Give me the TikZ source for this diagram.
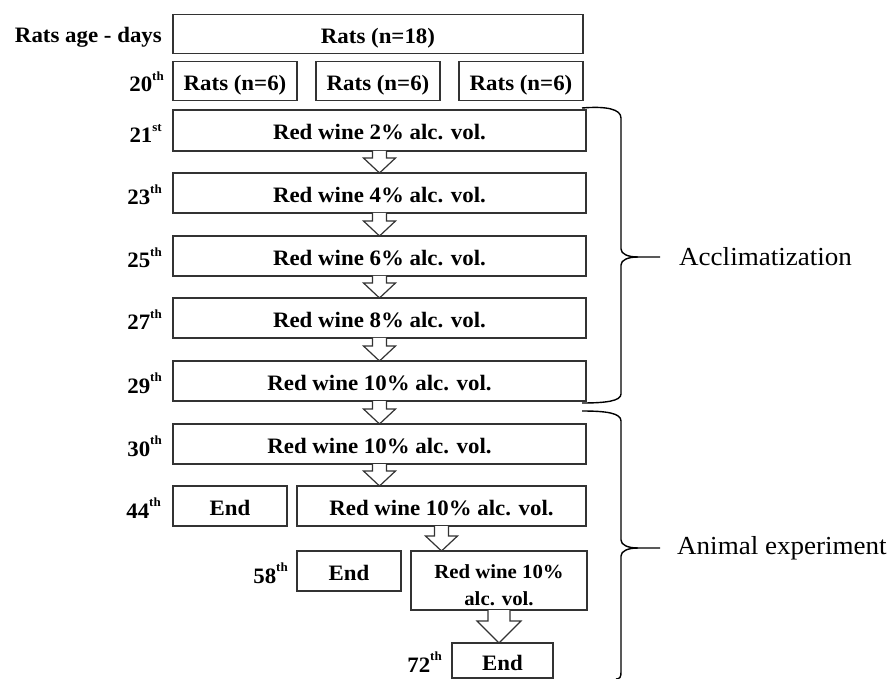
\documentclass[tikz,border=0pt]{standalone}
\usepackage{fontspec}
\setmainfont{Liberation Serif}[FakeStretch=1.04]
\usetikzlibrary{calc}
\tikzset{
  frame/.style={draw=black!80, line width=1.2pt, fill=white, inner sep=0pt, outer sep=0pt,
    font=\bfseries\fontsize{22}{24}\selectfont},
  box/.style={frame, text height=19pt, text depth=0pt},
  daylab/.style={anchor=base east, inner sep=0pt, font=\bfseries\fontsize{22}{24}\selectfont},
  arr/.style={draw=black!80, line width=1.2pt, fill=white, line join=miter},
  bracestyle/.style={draw=black, line width=1.4pt},
  phase/.style={anchor=west, inner sep=0pt, font=\fontsize{26}{28}\selectfont}
}
\newcommand\sups[1]{\raisebox{11.5pt}{\fontsize{12.5}{13}\selectfont #1}}
\newcommand\flowarrow[5]{%
  \draw[arr] let \p1=(#1.south), \p2=(#2.north) in
   (\x1-#3,\y1) -- (\x1-#3,\y2+#5) -- (\x1-#4,\y2+#5) -- (\x1,\y2)
   -- (\x1+#4,\y2+#5) -- (\x1+#3,\y2+#5) -- (\x1+#3,\y1);}
\begin{document}
\begin{tikzpicture}[x=1pt,y=-1pt]
\useasboundingbox (0,0) rectangle (895,679);
% header
\node[daylab] (hdr) at (162,43) {Rats age - days};
\node[box, minimum width=410pt, minimum height=39pt] (all) at (378,34) {Rats (n=18)};
\node[daylab] (d20) at (164,92) {20\sups{th}};
\node[box, minimum width=124pt, minimum height=39pt] (g1) at (235,81) {Rats (n=6)};
\node[box, minimum width=124pt, minimum height=39pt] (g2) at (378,81) {Rats (n=6)};
\node[box, minimum width=124pt, minimum height=39pt] (g3) at (521,81) {Rats (n=6)};
% acclimatization steps
\node[box, minimum width=413pt, minimum height=41pt] (r1) at (379.5,130.5) {Red wine 2\% alc. vol.};
\node[box, minimum width=413pt, minimum height=40pt] (r2) at (379.5,193) {Red wine 4\% alc. vol.};
\node[box, minimum width=413pt, minimum height=40pt] (r3) at (379.5,256) {Red wine 6\% alc. vol.};
\node[box, minimum width=413pt, minimum height=40pt] (r4) at (379.5,318) {Red wine 8\% alc. vol.};
\node[box, minimum width=413pt, minimum height=40pt] (r5) at (379.5,381) {Red wine 10\% alc. vol.};
\node[box, minimum width=413pt, minimum height=40pt] (r6) at (379.5,444) {Red wine 10\% alc. vol.};
\node[daylab] (d21) at (162,143) {21\sups{st}};
\node[daylab] (d23) at (162,205) {23\sups{th}};
\node[daylab] (d25) at (162,268) {25\sups{th}};
\node[daylab] (d27) at (162,330) {27\sups{th}};
\node[daylab] (d29) at (162,393) {29\sups{th}};
\node[daylab] (d30) at (162,456) {30\sups{th}};
% experiment
\node[box, minimum width=114pt, minimum height=40pt] (e1) at (230,506) {End};
\node[box, minimum width=289pt, minimum height=40pt] (r7) at (441.5,506) {Red wine 10\% alc. vol.};
\node[daylab] (d44) at (161,518) {44\sups{th}};
\node[box, minimum width=104pt, minimum height=40pt] (e2) at (349,571) {End};
\node[frame, minimum width=176pt, minimum height=59pt, text height=49pt, text depth=0pt,
      font=\bfseries\fontsize{20}{27}\selectfont] (r8) at (499,580.5)
      {\begin{tabular}[b]{@{}c@{}}Red wine 10\%\\alc. vol.\end{tabular}};
\node[daylab] (d58) at (288,583) {58\sups{th}};
\node[box, minimum width=101pt, minimum height=35pt] (e3) at (502.5,660.5) {End};
\node[daylab] (d72) at (442,672) {72\sups{th}};
% arrows
\flowarrow{r1}{r2}{7pt}{16pt}{15pt}
\flowarrow{r2}{r3}{7pt}{16pt}{15pt}
\flowarrow{r3}{r4}{7pt}{16pt}{15pt}
\flowarrow{r4}{r5}{7pt}{16pt}{15pt}
\flowarrow{r5}{r6}{7pt}{16pt}{15pt}
\flowarrow{r6}{r7}{7pt}{16pt}{15pt}
\flowarrow{r7}{r8}{7pt}{16pt}{15pt}
\flowarrow{r8}{e3}{11pt}{22pt}{22pt}
% braces
\draw[bracestyle] (582,108) .. controls (606,106) and (621,109) .. (621,118) -- (621,249)
  .. controls (621,254) and (628,257) .. (638,257) -- (660,257);
\draw[bracestyle] (638,257) .. controls (628,257) and (621,260) .. (621,265) -- (621,394)
  .. controls (621,401) and (606,403) .. (582,403);
\draw[bracestyle] (582,411) .. controls (606,411) and (621,413) .. (621,421) -- (621,540)
  .. controls (621,545) and (628,548) .. (638,548) -- (660,548);
\draw[bracestyle] (638,548) .. controls (628,548) and (621,551) .. (621,556) -- (621,672)
  .. controls (621,677) and (620,679) .. (616,679);
\node[phase] (acc) at (679,257) {Acclimatization};
\node[phase] (exp) at (677,548) {Animal experiment};
\end{tikzpicture}
\end{document}
